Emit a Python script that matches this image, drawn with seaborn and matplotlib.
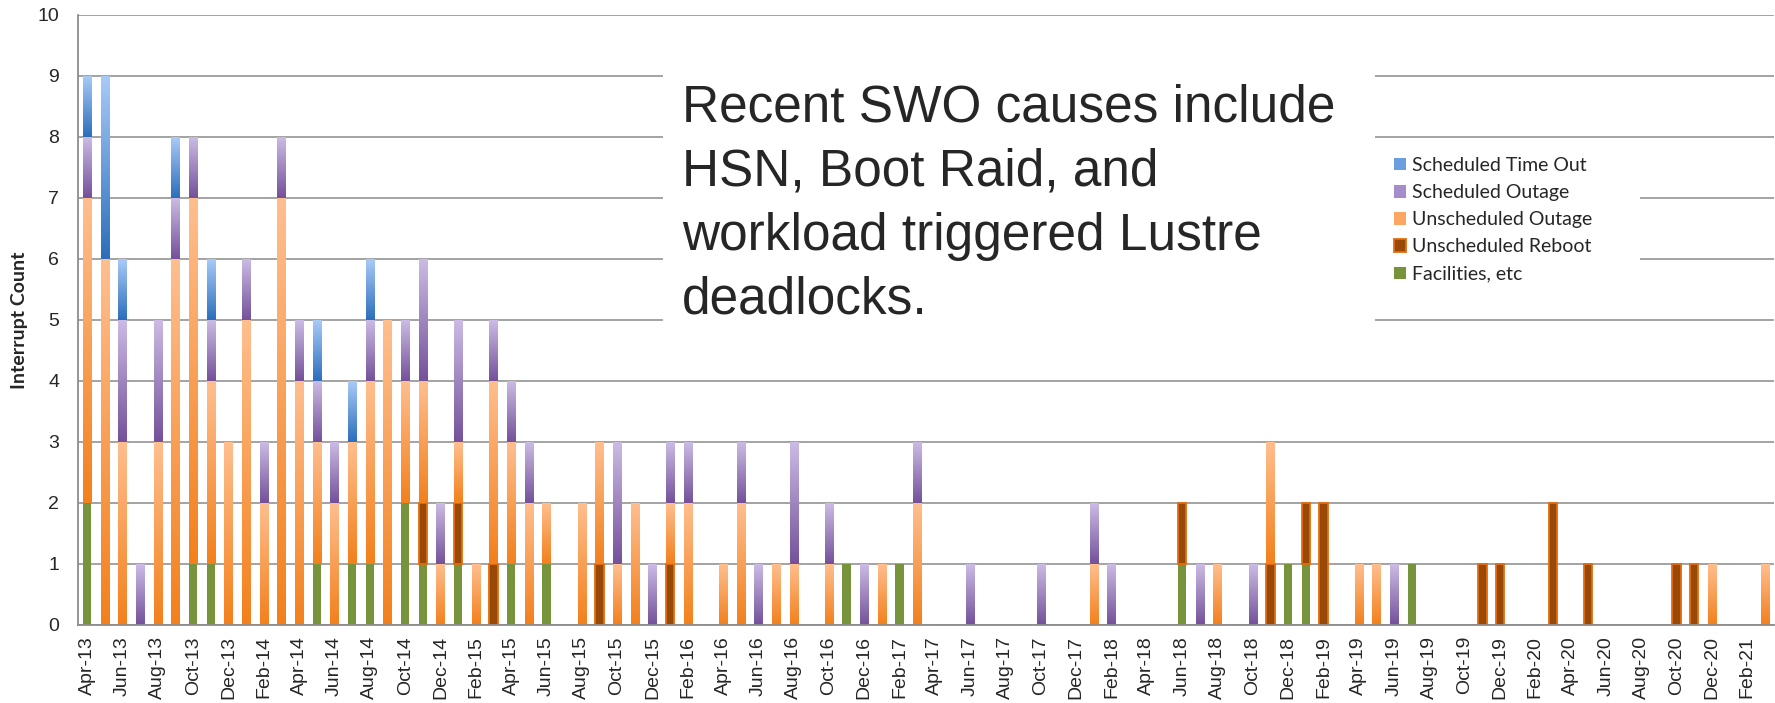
import numpy as np
import pandas as pd
import matplotlib
matplotlib.use('Agg')
import matplotlib.pyplot as plt
from matplotlib.colors import LinearSegmentedColormap
from matplotlib.patches import Rectangle, Patch
import seaborn as sns

# months Apr-13 .. Mar-21
months = pd.date_range('2013-04-01', '2021-03-01', freq='MS').strftime('%b-%y').tolist()

# one row per year (Apr..Mar)
facilities = [2, 0, 0, 0, 0, 0, 1, 1, 0, 0, 0, 0,
              0, 1, 0, 1, 1, 0, 2, 1, 0, 1, 0, 0,
              1, 0, 1, 0, 0, 0, 0, 0, 0, 0, 0, 0,
              0, 0, 0, 0, 0, 0, 0, 1, 0, 0, 1, 0,
              0, 0, 0, 0, 0, 0, 0, 0, 0, 0, 0, 0,
              0, 0, 1, 0, 0, 0, 0, 0, 1, 1, 0, 0,
              0, 0, 0, 1, 0, 0, 0, 0, 0, 0, 0, 0,
              0, 0, 0, 0, 0, 0, 0, 0, 0, 0, 0, 0]
reboot = [0, 0, 0, 0, 0, 0, 0, 0, 0, 0, 0, 0,
          0, 0, 0, 0, 0, 0, 0, 1, 0, 1, 0, 1,
          0, 0, 0, 0, 0, 1, 0, 0, 0, 1, 0, 0,
          0, 0, 0, 0, 0, 0, 0, 0, 0, 0, 0, 0,
          0, 0, 0, 0, 0, 0, 0, 0, 0, 0, 0, 0,
          0, 0, 1, 0, 0, 0, 0, 1, 0, 1, 2, 0,
          0, 0, 0, 0, 0, 0, 0, 1, 1, 0, 0, 2,
          0, 1, 0, 0, 0, 0, 1, 1, 0, 0, 0, 0]
unsched_outage = [5, 6, 3, 0, 3, 6, 6, 3, 3, 5, 2, 7,
                  4, 2, 2, 2, 3, 5, 2, 2, 1, 1, 1, 3,
                  2, 2, 1, 0, 2, 2, 1, 2, 0, 1, 2, 0,
                  1, 2, 0, 1, 1, 0, 1, 0, 0, 1, 0, 2,
                  0, 0, 0, 0, 0, 0, 0, 0, 0, 1, 0, 0,
                  0, 0, 0, 0, 1, 0, 0, 2, 0, 0, 0, 0,
                  1, 1, 0, 0, 0, 0, 0, 0, 0, 0, 0, 0,
                  0, 0, 0, 0, 0, 0, 0, 0, 1, 0, 0, 1]
sched_outage = [1, 0, 2, 1, 2, 1, 1, 1, 0, 1, 1, 1,
                1, 1, 1, 0, 1, 0, 1, 2, 1, 2, 0, 1,
                1, 1, 0, 0, 0, 0, 2, 0, 1, 1, 1, 0,
                0, 1, 1, 0, 2, 0, 1, 0, 1, 0, 0, 1,
                0, 0, 1, 0, 0, 0, 1, 0, 0, 1, 1, 0,
                0, 0, 0, 1, 0, 0, 1, 0, 0, 0, 0, 0,
                0, 0, 1, 0, 0, 0, 0, 0, 0, 0, 0, 0,
                0, 0, 0, 0, 0, 0, 0, 0, 0, 0, 0, 0]
time_out = [1, 3, 1, 0, 0, 1, 0, 1, 0, 0, 0, 0,
            0, 1, 0, 1, 1, 0, 0, 0, 0, 0, 0, 0] + [0] * 72

# bottom -> top: name, values, gradient (bottom colour, top colour)
series = [
    ('Facilities, etc', facilities, None),
    ('Unscheduled Reboot', reboot, None),
    ('Unscheduled Outage', unsched_outage, ('#F3801C', '#FFBE8E')),
    ('Scheduled Outage', sched_outage, ('#74519A', '#CBBBE4')),
    ('Scheduled Time Out', time_out, ('#2C6EBB', '#A8CAF8')),
]
green = '#77933C'
reboot_face = '#984807'
reboot_edge = '#E46C0A'

sns.set_style('white')
fig = plt.figure(figsize=(17.75, 7.03), dpi=100)
ax = fig.add_axes([0.0442, 0.111, 0.9551, 0.8677])

grad = np.linspace(0, 1, 128).reshape(-1, 1)
bottom = np.zeros(len(months))
for name, vals, cols in series:
    vals = np.array(vals, dtype=float)
    n0 = len(ax.patches)
    if name == 'Facilities, etc':
        sns.barplot(x=months, y=vals, order=months, bottom=bottom, color=green,
                    saturation=1, width=0.47, errorbar=None, ax=ax, zorder=2,
                    linewidth=0)
    elif name == 'Unscheduled Reboot':
        sns.barplot(x=months, y=vals, order=months, bottom=bottom, color=reboot_face,
                    saturation=1, width=0.47, errorbar=None, ax=ax, zorder=2,
                    edgecolor=reboot_edge, linewidth=1.3)
    else:
        sns.barplot(x=months, y=vals, order=months, bottom=bottom, color=cols[0],
                    saturation=1, width=0.47, errorbar=None, ax=ax, zorder=2,
                    linewidth=0)
        cmap = LinearSegmentedColormap.from_list(name, list(cols))
        for p in ax.patches[n0:]:
            h = p.get_height()
            if h <= 0:
                continue
            x0, y0, w = p.get_x(), p.get_y(), p.get_width()
            ax.imshow(grad, cmap=cmap, origin='lower', aspect='auto',
                      extent=[x0, x0 + w, y0, y0 + h], zorder=2.1,
                      interpolation='bilinear')
            p.set_facecolor('none')
    for p in ax.patches[n0:]:
        if p.get_height() <= 0:
            p.set_visible(False)
    bottom = bottom + vals

ax.set_xlim(-0.5, len(months) - 0.5)
ax.set_ylim(0, 10)

# grid / spines
ax.set_axisbelow(True)
ax.yaxis.grid(True, color='#9C9C9C', linewidth=1.3)
ax.xaxis.grid(False)
for s in ['top', 'right']:
    ax.spines[s].set_visible(False)
for s in ['left', 'bottom']:
    ax.spines[s].set_color('#8C8C8C')
    ax.spines[s].set_linewidth(1.3)

ax.set_yticks(range(0, 11))
ax.tick_params(axis='y', length=5, width=1.1, color='#8C8C8C', labelsize=14, pad=9)
ax.set_xticks(range(0, len(months), 2))
ax.set_xticklabels(months[::2], rotation=90, fontsize=14)
ax.set_xticks(np.arange(-0.5, len(months), 2), minor=True)
ax.tick_params(axis='x', which='major', length=0, pad=8)
ax.tick_params(axis='x', which='minor', length=5, width=1.1, color='#8C8C8C')
for lab in ax.get_xticklabels() + ax.get_yticklabels():
    lab.set_family('Liberation Sans')

ax.set_xlabel('')
ax.set_ylabel('Interrupt Count', fontsize=14, fontweight='bold', family='Lato')
ax.yaxis.set_label_coords(-0.030, 0.5)

# annotation box
ax.add_patch(Rectangle((0.345, 4.5), 0.42, 5.0, transform=ax.get_yaxis_transform(),
                       facecolor='white', edgecolor='none', zorder=1.5))
ax.text(0.356, 8.88, 'Recent SWO causes include\nHSN, Boot Raid, and\n'
        'workload triggered Lustre\ndeadlocks.',
        transform=ax.get_yaxis_transform(), ha='left', va='top', fontsize=37,
        family='Liberation Sans', linespacing=1.4, zorder=3)

# legend
ax.add_patch(Rectangle((0.765, 5.33), 0.156, 2.54, transform=ax.get_yaxis_transform(),
                       facecolor='white', edgecolor='none', zorder=1.5))
handles = [
    Patch(facecolor='#6B9DE0', edgecolor='none', label='Scheduled Time Out'),
    Patch(facecolor='#A58CCB', edgecolor='none', label='Scheduled Outage'),
    Patch(facecolor='#FBA764', edgecolor='none', label='Unscheduled Outage'),
    Patch(facecolor=reboot_face, edgecolor=reboot_edge, linewidth=1.3, label='Unscheduled Reboot'),
    Patch(facecolor=green, edgecolor='none', label='Facilities, etc'),
]
leg = ax.legend(handles=handles, loc='upper left', bbox_to_anchor=(0.776, 7.67),
                bbox_transform=ax.get_yaxis_transform(), frameon=False,
                borderpad=0, borderaxespad=0, labelspacing=0.52,
                handlelength=0.6, handleheight=0.6, handletextpad=0.3,
                prop={'family': 'Lato', 'size': 14})
leg.set_zorder(4)

fig.savefig('out.png', dpi=100)
